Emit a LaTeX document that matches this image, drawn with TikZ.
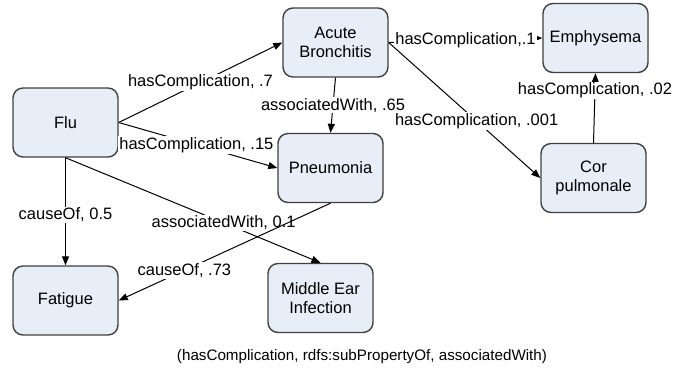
\documentclass[tikz,border=0pt]{standalone}
\usepackage{fontspec}
\setmainfont{Liberation Sans}
\usetikzlibrary{arrows.meta}
\definecolor{boxfill}{RGB}{232,238,248}
\begin{document}
\begin{tikzpicture}[x=0.5pt,y=-0.5pt,
  box/.style={draw=black!75, fill=boxfill, line width=0.7pt, rounded corners=5pt,
    minimum width=52.5pt, minimum height=34.5pt, align=center,
    font=\fontsize{8.25}{9.6}\selectfont},
  rel/.style={line width=0.5pt, -{Triangle[length=4.5pt,width=3.5pt]}},
  lbl/.style={fill=white, inner sep=0.6pt, font=\fontsize{8.25}{9.6}\selectfont}]
\useasboundingbox (0,0) rectangle (680,377);

\node[box] (flu) at (65.5,122.5) {Flu};
\node[box] (bronch) at (335.5,42.5) {Acute\\Bronchitis};
\node[box] (pneu) at (330.5,168) {Pneumonia};
\node[box] (emph) at (595.5,38) {Emphysema};
\node[box] (cor) at (593.5,178) {Cor\\pulmonale};
\node[box] (fatigue) at (65.5,300.5) {Fatigue};
\node[box] (ear) at (320.5,298) {Middle Ear\\Infection};

\draw[rel] (flu.east) -- node[lbl] {hasComplication, .7} (bronch.west);
\draw[rel] (flu.east) -- node[lbl, pos=0.49] {hasComplication, .15} (pneu.west);
\draw[rel] (bronch.south) -- node[lbl] {associatedWith, .65} (pneu.north);
\draw[rel] (bronch.east) -- node[lbl] {hasComplication,.1} (emph.west);
\draw[rel] (bronch.east) -- node[lbl, pos=0.58] {hasComplication, .001} (cor.west);
\draw[rel] (cor.north) -- node[lbl, pos=0.75] {hasComplication, .02} (emph.south);
\draw[rel] (flu.south) -- node[lbl, pos=0.53] {causeOf, 0.5} (fatigue.north);
\draw[rel] (flu.south) -- node[lbl, pos=0.62] {associatedWith, 0.1} (ear.north);
\draw[rel] (pneu.south) -- node[lbl, pos=0.69] {causeOf, .73} (fatigue.east);

\node[font=\fontsize{7.6}{9}\selectfont] (note) at (362,357) {(hasComplication, rdfs:subPropertyOf, associatedWith)};
\end{tikzpicture}
\end{document}
